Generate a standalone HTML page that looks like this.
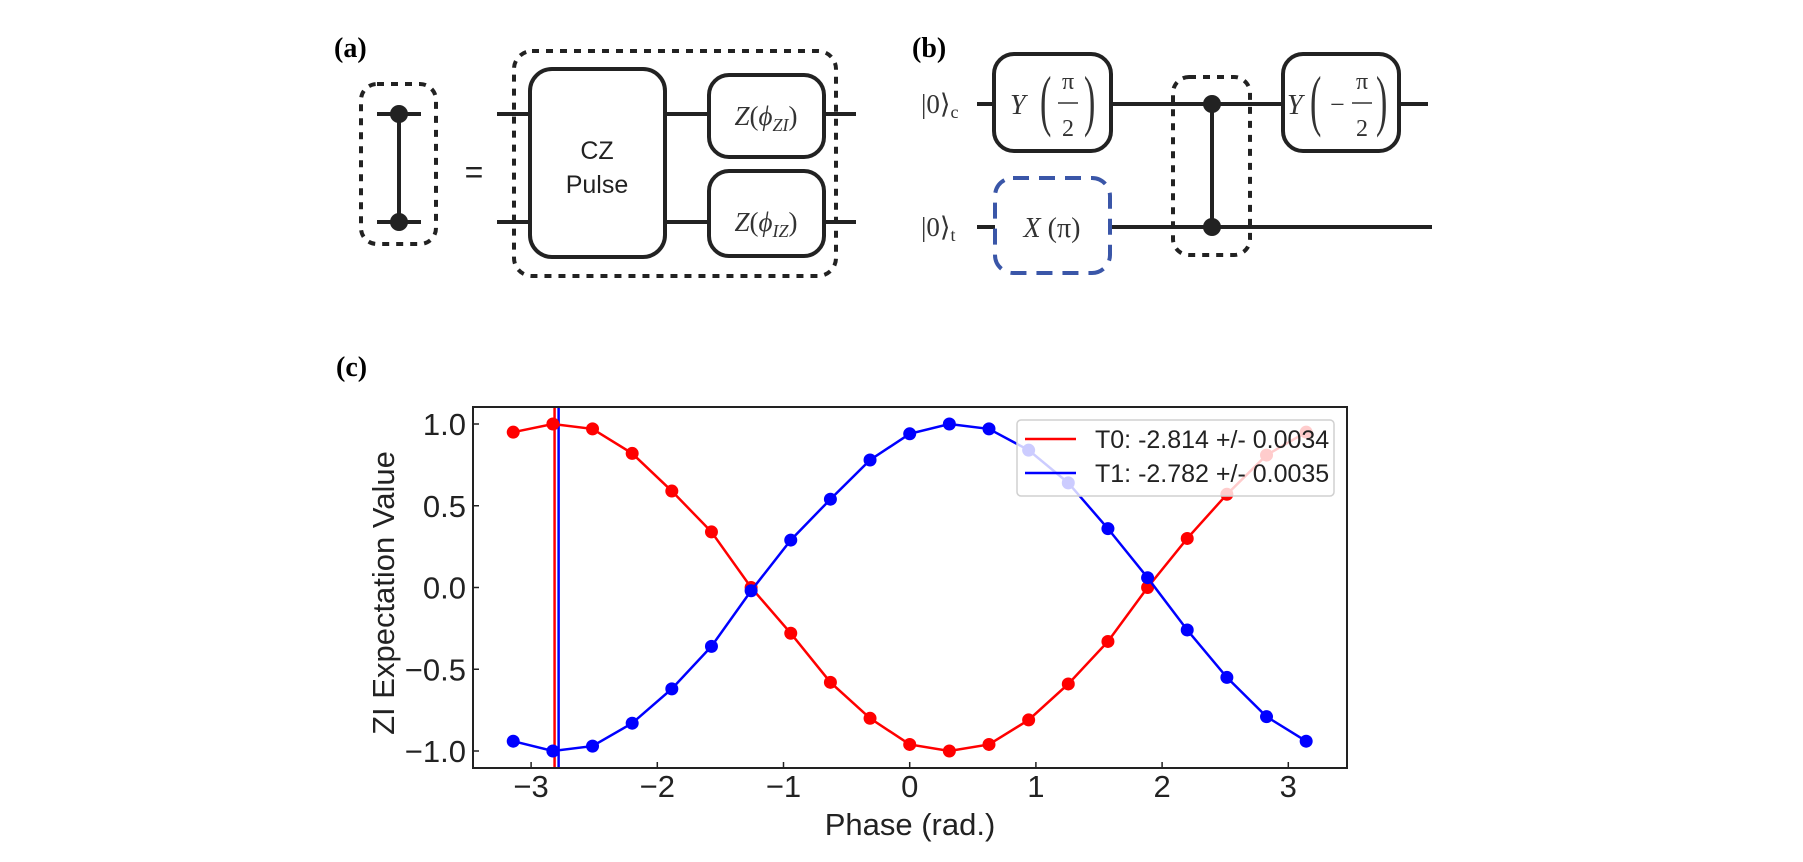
<!DOCTYPE html>
<html><head><meta charset="utf-8"><style>
html,body{margin:0;padding:0;background:#fff;}
svg{display:block;}
</style></head><body>
<svg id="fig" width="1803" height="862" viewBox="0 0 1803 862" xmlns="http://www.w3.org/2000/svg">
<!-- Panel (a) -->
<g stroke-linecap="butt">
  <text x="334" y="57" font-family="Liberation Serif, serif" font-weight="bold" font-size="28">(a)</text>
  <rect x="361" y="84" width="75" height="160" rx="16" fill="none" stroke="#222" stroke-width="4" stroke-dasharray="7,7"/>
  <line x1="377" y1="114" x2="421" y2="114" stroke="#222" stroke-width="4"/>
  <line x1="377" y1="222" x2="421" y2="222" stroke="#222" stroke-width="4"/>
  <line x1="399" y1="114" x2="399" y2="222" stroke="#222" stroke-width="4"/>
  <circle cx="399" cy="114" r="9" fill="#222"/>
  <circle cx="399" cy="222" r="9" fill="#222"/>
  <text x="474" y="183" text-anchor="middle" font-family="Liberation Sans, sans-serif" font-size="32" fill="#222">=</text>
  <rect x="514" y="51" width="322" height="225" rx="18" fill="none" stroke="#222" stroke-width="4" stroke-dasharray="7,7"/>
  <line x1="497" y1="114" x2="530" y2="114" stroke="#222" stroke-width="4"/>
  <line x1="497" y1="222" x2="530" y2="222" stroke="#222" stroke-width="4"/>
  <line x1="665" y1="114" x2="709" y2="114" stroke="#222" stroke-width="4"/>
  <line x1="665" y1="222" x2="709" y2="222" stroke="#222" stroke-width="4"/>
  <line x1="823" y1="114" x2="856" y2="114" stroke="#222" stroke-width="4"/>
  <line x1="823" y1="222" x2="856" y2="222" stroke="#222" stroke-width="4"/>
  <rect x="530" y="69" width="135" height="188" rx="22" fill="#fff" stroke="#222" stroke-width="4"/>
  <text x="597" y="159" text-anchor="middle" font-family="Liberation Sans, sans-serif" font-size="25" fill="#222">CZ</text>
  <text x="597" y="193" text-anchor="middle" font-family="Liberation Sans, sans-serif" font-size="25" fill="#222">Pulse</text>
  <rect x="709" y="75" width="115" height="82" rx="20" fill="#fff" stroke="#222" stroke-width="4"/>
  <text x="766" y="125" text-anchor="middle" font-family="Liberation Serif, serif" font-size="27" fill="#333"><tspan font-style="italic">Z</tspan>(<tspan font-style="italic">ϕ</tspan><tspan font-style="italic" font-size="18" dy="6">ZI</tspan><tspan dy="-6">)</tspan></text>
  <rect x="709" y="171" width="115" height="85" rx="20" fill="#fff" stroke="#222" stroke-width="4"/>
  <text x="766" y="231" text-anchor="middle" font-family="Liberation Serif, serif" font-size="27" fill="#333"><tspan font-style="italic">Z</tspan>(<tspan font-style="italic">ϕ</tspan><tspan font-style="italic" font-size="18" dy="6">IZ</tspan><tspan dy="-6">)</tspan></text>
</g>
<!-- Panel (b) -->
<g>
  <text x="912" y="57" font-family="Liberation Serif, serif" font-weight="bold" font-size="28">(b)</text>
  <text x="921" y="113" font-family="Liberation Serif, serif" font-size="27" fill="#333">|0⟩<tspan font-size="18" dy="5">c</tspan></text>
  <text x="921" y="236" font-family="Liberation Serif, serif" font-size="27" fill="#333">|0⟩<tspan font-size="18" dy="5">t</tspan></text>
  <line x1="977" y1="104" x2="1428" y2="104" stroke="#222" stroke-width="4"/>
  <line x1="977" y1="227" x2="995" y2="227" stroke="#222" stroke-width="4"/>
  <line x1="1111" y1="227" x2="1432" y2="227" stroke="#222" stroke-width="4"/>
  <rect x="994" y="54" width="117" height="97" rx="20" fill="#fff" stroke="#222" stroke-width="4"/>
  <text x="1010" y="114" font-family="Liberation Serif, serif" font-style="italic" font-size="28" fill="#333">Y</text>
  <text x="0" y="0" font-family="Liberation Serif, serif" font-size="34" fill="#333" transform="translate(1040,123) scale(1,2)">(</text>
  <text x="1068" y="89" text-anchor="middle" font-family="Liberation Serif, serif" font-size="24" fill="#333">π</text>
  <line x1="1058" y1="103" x2="1078" y2="103" stroke="#333" stroke-width="1.5"/>
  <text x="1068" y="136" text-anchor="middle" font-family="Liberation Serif, serif" font-size="24" fill="#333">2</text>
  <text x="0" y="0" font-family="Liberation Serif, serif" font-size="34" fill="#333" transform="translate(1084,123) scale(1,2)">)</text>
  <rect x="1283" y="54" width="116" height="97" rx="20" fill="#fff" stroke="#222" stroke-width="4"/>
  <text x="1287" y="114" font-family="Liberation Serif, serif" font-style="italic" font-size="28" fill="#333">Y</text>
  <text x="0" y="0" font-family="Liberation Serif, serif" font-size="34" fill="#333" transform="translate(1310,123) scale(1,2)">(</text>
  <text x="1330" y="113" font-family="Liberation Serif, serif" font-size="26" fill="#333">−</text>
  <text x="1362" y="89" text-anchor="middle" font-family="Liberation Serif, serif" font-size="24" fill="#333">π</text>
  <line x1="1352" y1="103" x2="1372" y2="103" stroke="#333" stroke-width="1.5"/>
  <text x="1362" y="136" text-anchor="middle" font-family="Liberation Serif, serif" font-size="24" fill="#333">2</text>
  <text x="0" y="0" font-family="Liberation Serif, serif" font-size="34" fill="#333" transform="translate(1376,123) scale(1,2)">)</text>
  <rect x="995" y="178" width="115" height="95" rx="18" fill="#fff" stroke="#3a56a8" stroke-width="4" stroke-dasharray="16,10"/>
  <text x="1052" y="237" text-anchor="middle" font-family="Liberation Serif, serif" font-size="28" fill="#333"><tspan font-style="italic">X</tspan> (π)</text>
  <rect x="1173" y="77" width="77" height="178" rx="16" fill="none" stroke="#222" stroke-width="4" stroke-dasharray="7,7"/>
  <line x1="1212" y1="104" x2="1212" y2="227" stroke="#222" stroke-width="4"/>
  <circle cx="1212" cy="104" r="9" fill="#222"/>
  <circle cx="1212" cy="227" r="9" fill="#222"/>
</g>
<!-- Panel (c) -->
<text x="336" y="376" font-family="Liberation Serif, serif" font-weight="bold" font-size="28">(c)</text>
<g id="chart"></g>
</svg>
<script>
const phases = [-3.1416,-2.8274,-2.5133,-2.1991,-1.885,-1.5708,-1.2566,-0.9425,-0.6283,-0.3142,0,0.3142,0.6283,0.9425,1.2566,1.5708,1.885,2.1991,2.5133,2.8274,3.1416];
const t0Values = [0.95,1.0,0.97,0.82,0.59,0.34,0.0,-0.28,-0.58,-0.80,-0.96,-1.0,-0.96,-0.81,-0.59,-0.33,0.0,0.30,0.57,0.81,0.95];
const t1Values = [-0.94,-1.0,-0.97,-0.83,-0.62,-0.36,-0.02,0.29,0.54,0.78,0.94,1.0,0.97,0.84,0.64,0.36,0.06,-0.26,-0.55,-0.79,-0.94];
const fitPhases = [-2.814,-2.782];
const xTicks = [-3,-2,-1,0,1,2,3];
const xTickLabels = ["−3","−2","−1","0","1","2","3"];
const yTicks = [-1,-0.5,0,0.5,1];
const yTickLabels = ["−1.0","−0.5","0.0","0.5","1.0"];
const legendLabels = ["T0: -2.814 +/- 0.0034","T1: -2.782 +/- 0.0035"];

const NS = "http://www.w3.org/2000/svg";
const L = 473, R = 1347, T = 407, B = 768;
const sx = v => 909.7 + v * 126.2;
const sy = v => 587.5 - v * 163.5;
const g = document.getElementById('chart');
function mk(tag, attrs, parent) {
  const e = document.createElementNS(NS, tag);
  for (const k in attrs) e.setAttribute(k, attrs[k]);
  (parent || g).appendChild(e);
  return e;
}
const fitColors = ["#ff0000","#0000ff"];
fitPhases.forEach((p, i) => {
  const ln = mk('line', {x1: sx(p), x2: sx(p), y1: T, y2: B, stroke: fitColors[i], 'stroke-width': 2.5});
  
  
});
function series(vals, color, name) {
  const grp = mk('g', {});
  
  
  const pts = phases.map((p, i) => sx(p) + ',' + sy(vals[i])).join(' ');
  const pl = mk('polyline', {points: pts, fill: 'none', stroke: color, 'stroke-width': 2.5}, grp);
  
  
  phases.forEach((p, i) => {
    const c = mk('circle', {cx: sx(p), cy: sy(vals[i]), r: 6.5, fill: color}, grp);
    
    
  });
}
series(t0Values, '#ff0000', 't0-series');
series(t1Values, '#0000ff', 't1-series');
const frame = mk('rect', {x: L, y: T, width: R - L, height: B - T, fill: 'none', stroke: '#222', 'stroke-width': 2});


xTicks.forEach((v, i) => {
  mk('line', {x1: sx(v), x2: sx(v), y1: B, y2: B - 6, stroke: '#222', 'stroke-width': 1.5});
  const t = mk('text', {x: sx(v), y: 797, 'text-anchor': 'middle', 'font-family': 'Liberation Sans, sans-serif', 'font-size': 31, fill: '#222'});
  t.textContent = xTickLabels[i];
  
  
});
yTicks.forEach((v, i) => {
  mk('line', {x1: L, x2: L + 6, y1: sy(v), y2: sy(v), stroke: '#222', 'stroke-width': 1.5});
  const t = mk('text', {x: 466, y: sy(v) + 11, 'text-anchor': 'end', 'font-family': 'Liberation Sans, sans-serif', 'font-size': 31, fill: '#222'});
  t.textContent = yTickLabels[i];
  
  
});
const xl = mk('text', {x: 910, y: 835, 'text-anchor': 'middle', 'font-family': 'Liberation Sans, sans-serif', 'font-size': 31, fill: '#222'});
xl.textContent = 'Phase (rad.)';


const yl = mk('text', {x: 0, y: 0, 'text-anchor': 'middle', 'font-family': 'Liberation Sans, sans-serif', 'font-size': 31, fill: '#222', transform: 'translate(394,593) rotate(-90)'});
yl.textContent = 'ZI Expectation Value';


const lg = mk('g', {});


mk('rect', {x: 1017, y: 420, width: 317, height: 76, rx: 4, fill: 'rgba(255,255,255,0.8)', stroke: '#d0d0d0', 'stroke-width': 1.5}, lg);
legendLabels.forEach((lab, i) => {
  const y = 439 + i * 34;
  const e = mk('g', {}, lg);
  
  
  mk('line', {x1: 1025, x2: 1076, y1: y, y2: y, stroke: fitColors[i], 'stroke-width': 2.5}, e);
  const t = mk('text', {x: 1095, y: y + 9, 'font-family': 'Liberation Sans, sans-serif', 'font-size': 25, fill: '#222'}, e);
  t.textContent = lab;
});
</script>
</body></html>
